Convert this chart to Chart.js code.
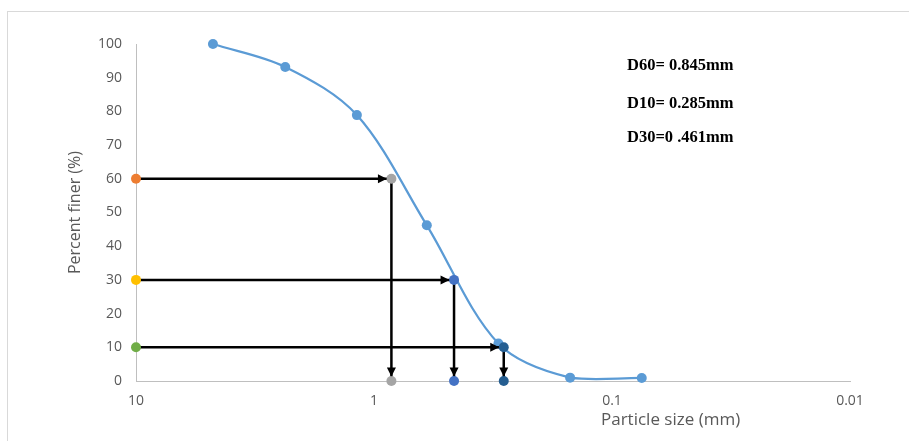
<!DOCTYPE html>
<html>
<head>
<meta charset="utf-8">
<script src="https://cdn.jsdelivr.net/npm/chart.js@4"></script>
<style>
  body { margin: 0; background: #fff; }
  #frame { position: absolute; left: 7px; top: 11px; width: 920px; height: 450px; border: 1px solid #d9d9d9; }
  #wrap { position: absolute; left: 0; top: 0; width: 909px; height: 441px; }
</style>
</head>
<body>
<div id="frame"></div>
<div id="wrap"><canvas id="myChart" width="909" height="441"></canvas></div>
<script>
// sieve analysis (particle size in mm, percent finer)
const sizes = [4.75, 2.36, 1.18, 0.6, 0.3, 0.15, 0.075];
const finer = [100, 93.2, 78.9, 46.2, 11.1, 1.0, 0.9];

// D values
const dPercent = [60, 30, 10];
const dSize = [0.845, 0.461, 0.285];
const startColors = ['#ED7D31', '#FFC000', '#70AD47'];
const endColors = ['#A5A5A5', '#4472C4', '#255E91'];

const notes = ['D60= 0.845mm', 'D10= 0.285mm', 'D30=0 .461mm'];

const xTicks = [10, 1, 0.1, 0.01];
const yMin = 0, yMax = 100, yStep = 10;

const grey = '#595959';
const dotR = 5;

let datasets = [];

// marker points first so they sit on top
for (let i = 0; i < dPercent.length; i++) {
    datasets.push({
        data: [{ x: 10, y: dPercent[i] }],
        pointRadius: dotR,
        pointBackgroundColor: startColors[i],
        pointBorderWidth: 0,
        showLine: false,
        clip: false
    });
    datasets.push({
        data: [{ x: dSize[i], y: dPercent[i] }, { x: dSize[i], y: 0 }],
        pointRadius: dotR,
        pointBackgroundColor: endColors[i],
        pointBorderWidth: 0,
        showLine: false,
        clip: false
    });
}

// arrow lines
for (let i = 0; i < dPercent.length; i++) {
    datasets.push({
        arrow: true,
        data: [{ x: 10, y: dPercent[i] }, { x: dSize[i], y: dPercent[i] }, { x: dSize[i], y: 0 }],
        showLine: true,
        borderColor: '#000',
        borderWidth: 2.5,
        pointRadius: 0,
        tension: 0,
        clip: false
    });
}

// gradation curve
datasets.push({
    data: sizes.map((s, i) => ({ x: s, y: finer[i] })),
    showLine: true,
    borderColor: '#5B9BD5',
    borderWidth: 2.25,
    pointRadius: dotR,
    pointBackgroundColor: '#5B9BD5',
    pointBorderWidth: 0,
    tension: 0.33,
    clip: false
});

const arrowHeads = {
    id: 'arrowHeads',
    afterDatasetsDraw(chart) {
        const ctx = chart.ctx;
        chart.data.datasets.forEach((ds, i) => {
            if (!ds.arrow) return;
            const pts = chart.getDatasetMeta(i).data;
            ctx.save();
            ctx.fillStyle = '#000';
            for (let k = 1; k < pts.length; k++) {
                const a = pts[k - 1], b = pts[k];
                const ang = Math.atan2(b.y - a.y, b.x - a.x);
                const tipX = b.x - Math.cos(ang) * 4.5;
                const tipY = b.y - Math.sin(ang) * 4.5;
                ctx.save();
                ctx.translate(tipX, tipY);
                ctx.rotate(ang);
                ctx.beginPath();
                ctx.moveTo(0, 0);
                ctx.lineTo(-9, -4.5);
                ctx.lineTo(-9, 4.5);
                ctx.closePath();
                ctx.fill();
                ctx.restore();
            }
            ctx.restore();
        });
    }
};

const textBits = {
    id: 'textBits',
    afterDraw(chart) {
        const ctx = chart.ctx;
        ctx.save();
        ctx.fillStyle = '#000';
        ctx.font = 'bold 16.5px "Liberation Serif"';
        ctx.textBaseline = 'middle';
        ctx.textAlign = 'left';
        const ys = [66, 104, 138];
        notes.forEach((t, i) => ctx.fillText(t, 627, ys[i]));
        // x axis title sits off-centre in the original
        ctx.fillStyle = grey;
        ctx.font = '17px "Open Sans"';
        ctx.fillText('Particle size (mm)', 601, 420);
        ctx.restore();
    }
};

new Chart(document.getElementById('myChart'), {
    type: 'scatter',
    data: { datasets: datasets },
    plugins: [arrowHeads, textBits],
    options: {
        responsive: false,
        animation: false,
        layout: { padding: { top: 44, right: 59, left: 0, bottom: 0 } },
        plugins: { legend: { display: false }, tooltip: { enabled: false } },
        scales: {
            x: {
                type: 'logarithmic',
                min: 0.01,
                max: 10,
                reverse: true,
                afterBuildTicks: (scale) => { scale.ticks = xTicks.map(v => ({ value: v })); },
                afterFit: (scale) => { scale.height = 60; },
                grid: { display: false, drawTicks: false },
                border: { color: '#BFBFBF', width: 1 },
                ticks: {
                    color: grey,
                    font: { family: 'Open Sans', size: 14 },
                    padding: 12,
                    maxRotation: 0,
                    autoSkip: false,
                    callback: (v) => String(v)
                }
            },
            y: {
                min: yMin,
                max: yMax,
                afterFit: (scale) => { scale.width = 136; },
                grid: { display: false, drawTicks: false },
                border: { color: '#BFBFBF', width: 1 },
                ticks: {
                    stepSize: yStep,
                    color: grey,
                    font: { family: 'Open Sans', size: 14 },
                    padding: 14
                },
                title: {
                    display: true,
                    text: 'Percent finer (%)',
                    color: grey,
                    font: { family: 'Open Sans', size: 16 },
                    padding: { top: 66, bottom: 0 }
                }
            }
        }
    }
});
</script>
</body>
</html>
